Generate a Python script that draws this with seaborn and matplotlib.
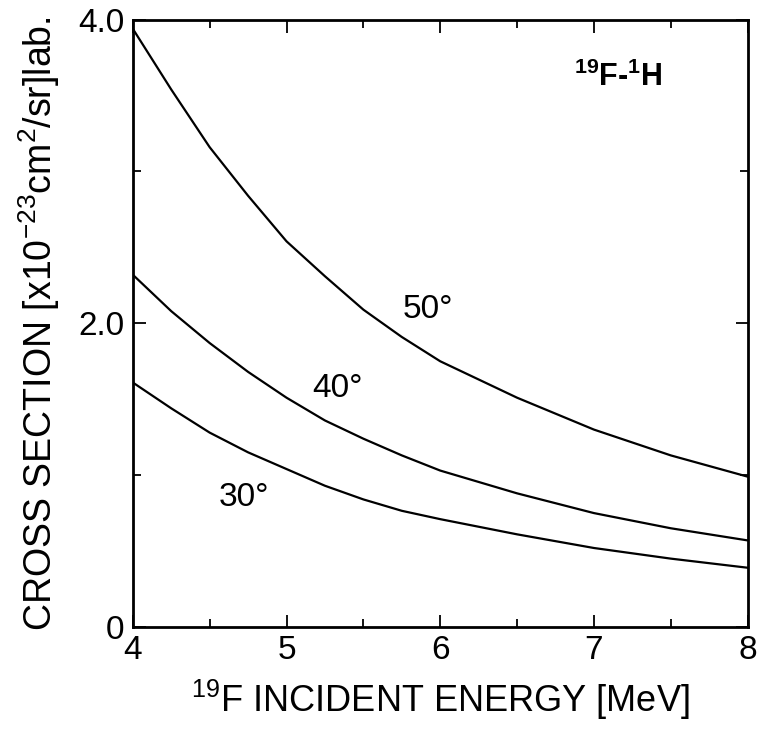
import matplotlib

matplotlib.use("Agg")
import matplotlib.pyplot as plt
import pandas as pd
import seaborn as sns
from matplotlib.ticker import MultipleLocator

sns.set_theme(style="ticks")
plt.rcParams["font.family"] = ["Liberation Sans", "DejaVu Sans"]
plt.rcParams["mathtext.fontset"] = "custom"
plt.rcParams["mathtext.rm"] = "Liberation Sans"
plt.rcParams["mathtext.bf"] = "Liberation Sans:bold"
plt.rcParams["mathtext.default"] = "regular"
plt.rcParams["text.color"] = "black"
plt.rcParams["axes.labelcolor"] = "black"
plt.rcParams["xtick.color"] = "black"
plt.rcParams["ytick.color"] = "black"

# values (cross section in 1e-23 cm^2/sr, lab)
energy = [4.0, 4.25, 4.5, 4.75, 5.0, 5.25, 5.5, 5.75, 6.0, 6.5, 7.0, 7.5, 8.0]
xs_30 = [1.61, 1.44, 1.28, 1.15, 1.04, 0.93, 0.84, 0.765, 0.71, 0.61, 0.52, 0.45, 0.39]
xs_40 = [2.32, 2.08, 1.87, 1.68, 1.51, 1.36, 1.24, 1.13, 1.03, 0.88, 0.75, 0.65, 0.57]
xs_50 = [3.94, 3.54, 3.16, 2.84, 2.54, 2.31, 2.09, 1.91, 1.75, 1.51, 1.30, 1.13, 0.99]
angles = ["30°", "40°", "50°"]
label_pos = {"30°": (4.72, 0.85), "40°": (5.33, 1.57), "50°": (5.92, 2.09)}

df = pd.concat([
    pd.DataFrame({"energy": energy, "xs": v, "angle": a})
    for a, v in zip(angles, [xs_30, xs_40, xs_50])
])

fig = plt.figure(figsize=(7.59, 7.29), dpi=100)
ax = fig.add_axes([0.175, 0.14, 0.81, 0.833])
sns.lineplot(data=df, x="energy", y="xs", hue="angle", units="angle",
             estimator=None, palette={a: "black" for a in angles},
             linewidth=1.6, legend=False, ax=ax)

for a, (x, y) in label_pos.items():
    ax.text(x, y, a, fontsize=24, ha="center", va="center")
ax.text(7.16, 3.62, r"$\mathbf{^{19}F}$-$\mathbf{^{1}H}$", fontsize=22,
        fontweight="bold", ha="center", va="center")

ax.set_xlim(4, 8)
ax.set_ylim(0, 4.0)
ax.xaxis.set_major_locator(MultipleLocator(1))
ax.xaxis.set_minor_locator(MultipleLocator(0.5))
ax.set_yticks([0, 2.0, 4.0])
ax.set_yticklabels(["0", "2.0", "4.0"])
ax.yaxis.set_minor_locator(MultipleLocator(1.0))
ax.tick_params(which="both", direction="in", top=True, right=True,
               width=1.3, labelsize=24, pad=6)
ax.tick_params(which="major", length=9)
ax.tick_params(which="minor", length=6)
for s in ax.spines.values():
    s.set_linewidth(2)
    s.set_color("black")

ax.set_xlabel(r"$^{19}$F INCIDENT ENERGY [MeV]", fontsize=26, labelpad=8)
ax.set_ylabel(r"CROSS SECTION [x10$^{-23}$cm$^{2}$/sr]lab.", fontsize=27,
              labelpad=12)

fig.savefig("out.png", dpi=100)
